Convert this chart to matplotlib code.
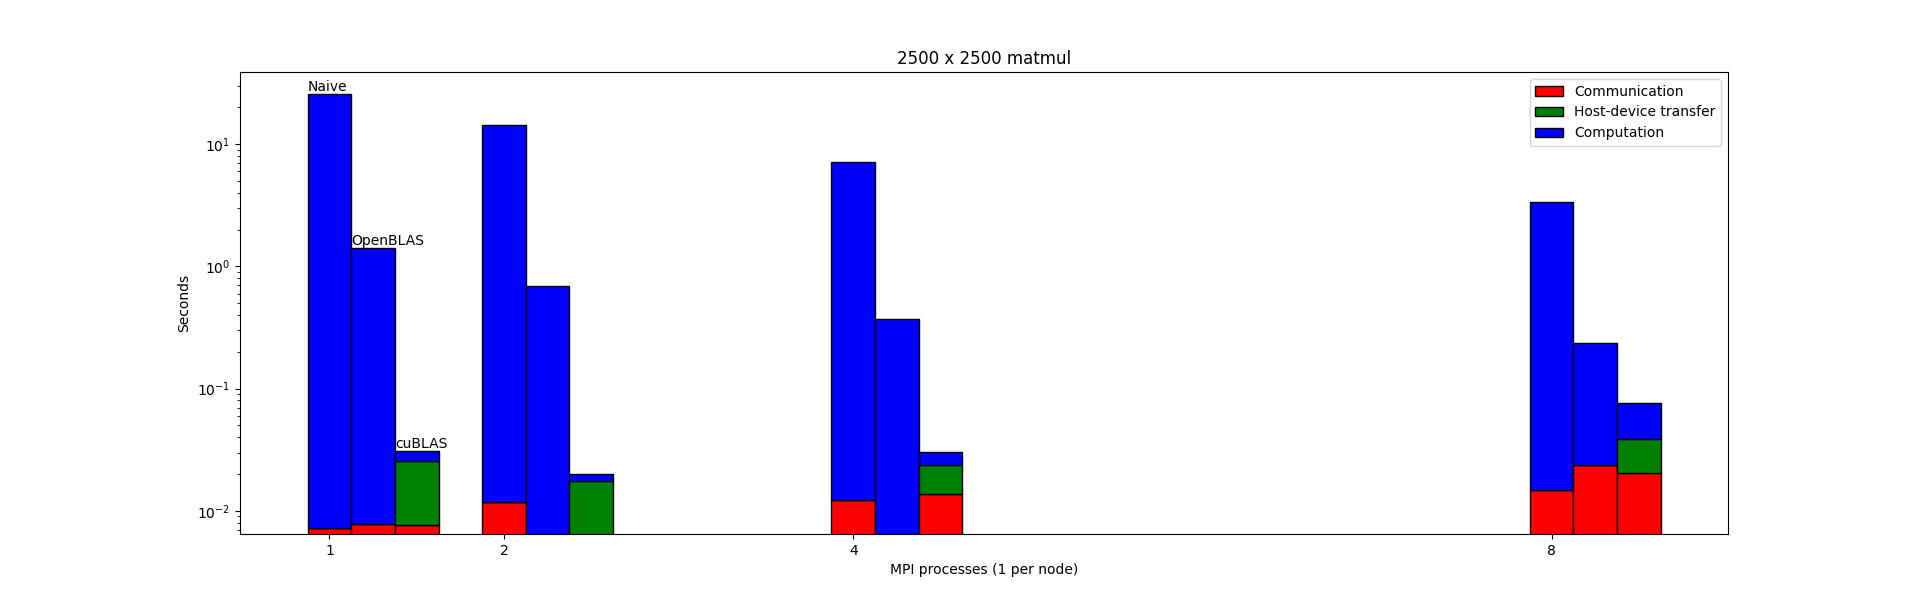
import matplotlib
matplotlib.use('Agg')
import matplotlib.pyplot as plt
import numpy as np

procs = [1, 2, 4, 8]
methods = ['Naive', 'OpenBLAS', 'cuBLAS']

# seconds
comm = {
    'Naive':    [0.0072, 0.0118, 0.0123, 0.0148],
    'OpenBLAS': [0.0078, 0.0, 0.0, 0.0235],
    'cuBLAS':   [0.0076, 0.0, 0.0138, 0.0204],
}
transfer = {
    'Naive':    [0.0, 0.0, 0.0, 0.0],
    'OpenBLAS': [0.0, 0.0, 0.0, 0.0],
    'cuBLAS':   [0.0182, 0.0174, 0.0097, 0.0186],
}
total = {
    'Naive':    [25.8, 14.5, 7.2, 3.38],
    'OpenBLAS': [1.41, 0.69, 0.37, 0.234],
    'cuBLAS':   [0.031, 0.020, 0.0303, 0.076],
}

fig, ax = plt.subplots(figsize=(19.2, 6), dpi=100)
w = 0.25
x = np.array(procs, dtype=float)

for i, m in enumerate(methods):
    xs = x + i * w
    c = np.array(comm[m])
    t = np.array(transfer[m])
    comp = np.array(total[m]) - c - t
    ax.bar(xs, c, w, color='red', edgecolor='black',
           label='Communication' if i == 0 else None)
    ax.bar(xs, t, w, bottom=c, color='green', edgecolor='black',
           label='Host-device transfer' if i == 0 else None)
    ax.bar(xs, comp, w, bottom=c + t, color='blue', edgecolor='black',
           label='Computation' if i == 0 else None)
    ax.text(xs[0] - w / 2, total[m][0], m, ha='left', va='bottom', fontsize=10)

ax.set_yscale('log')
ax.set_ylim(0.00646, 39)
ax.set_xlim(0.488, 9.01)
ax.set_xticks(procs)
ax.set_xticklabels([str(p) for p in procs])
ax.set_xlabel('MPI processes (1 per node)')
ax.set_ylabel('Seconds')
ax.set_title('2500 x 2500 matmul')
ax.legend(loc='upper right')

fig.savefig('out.png')
